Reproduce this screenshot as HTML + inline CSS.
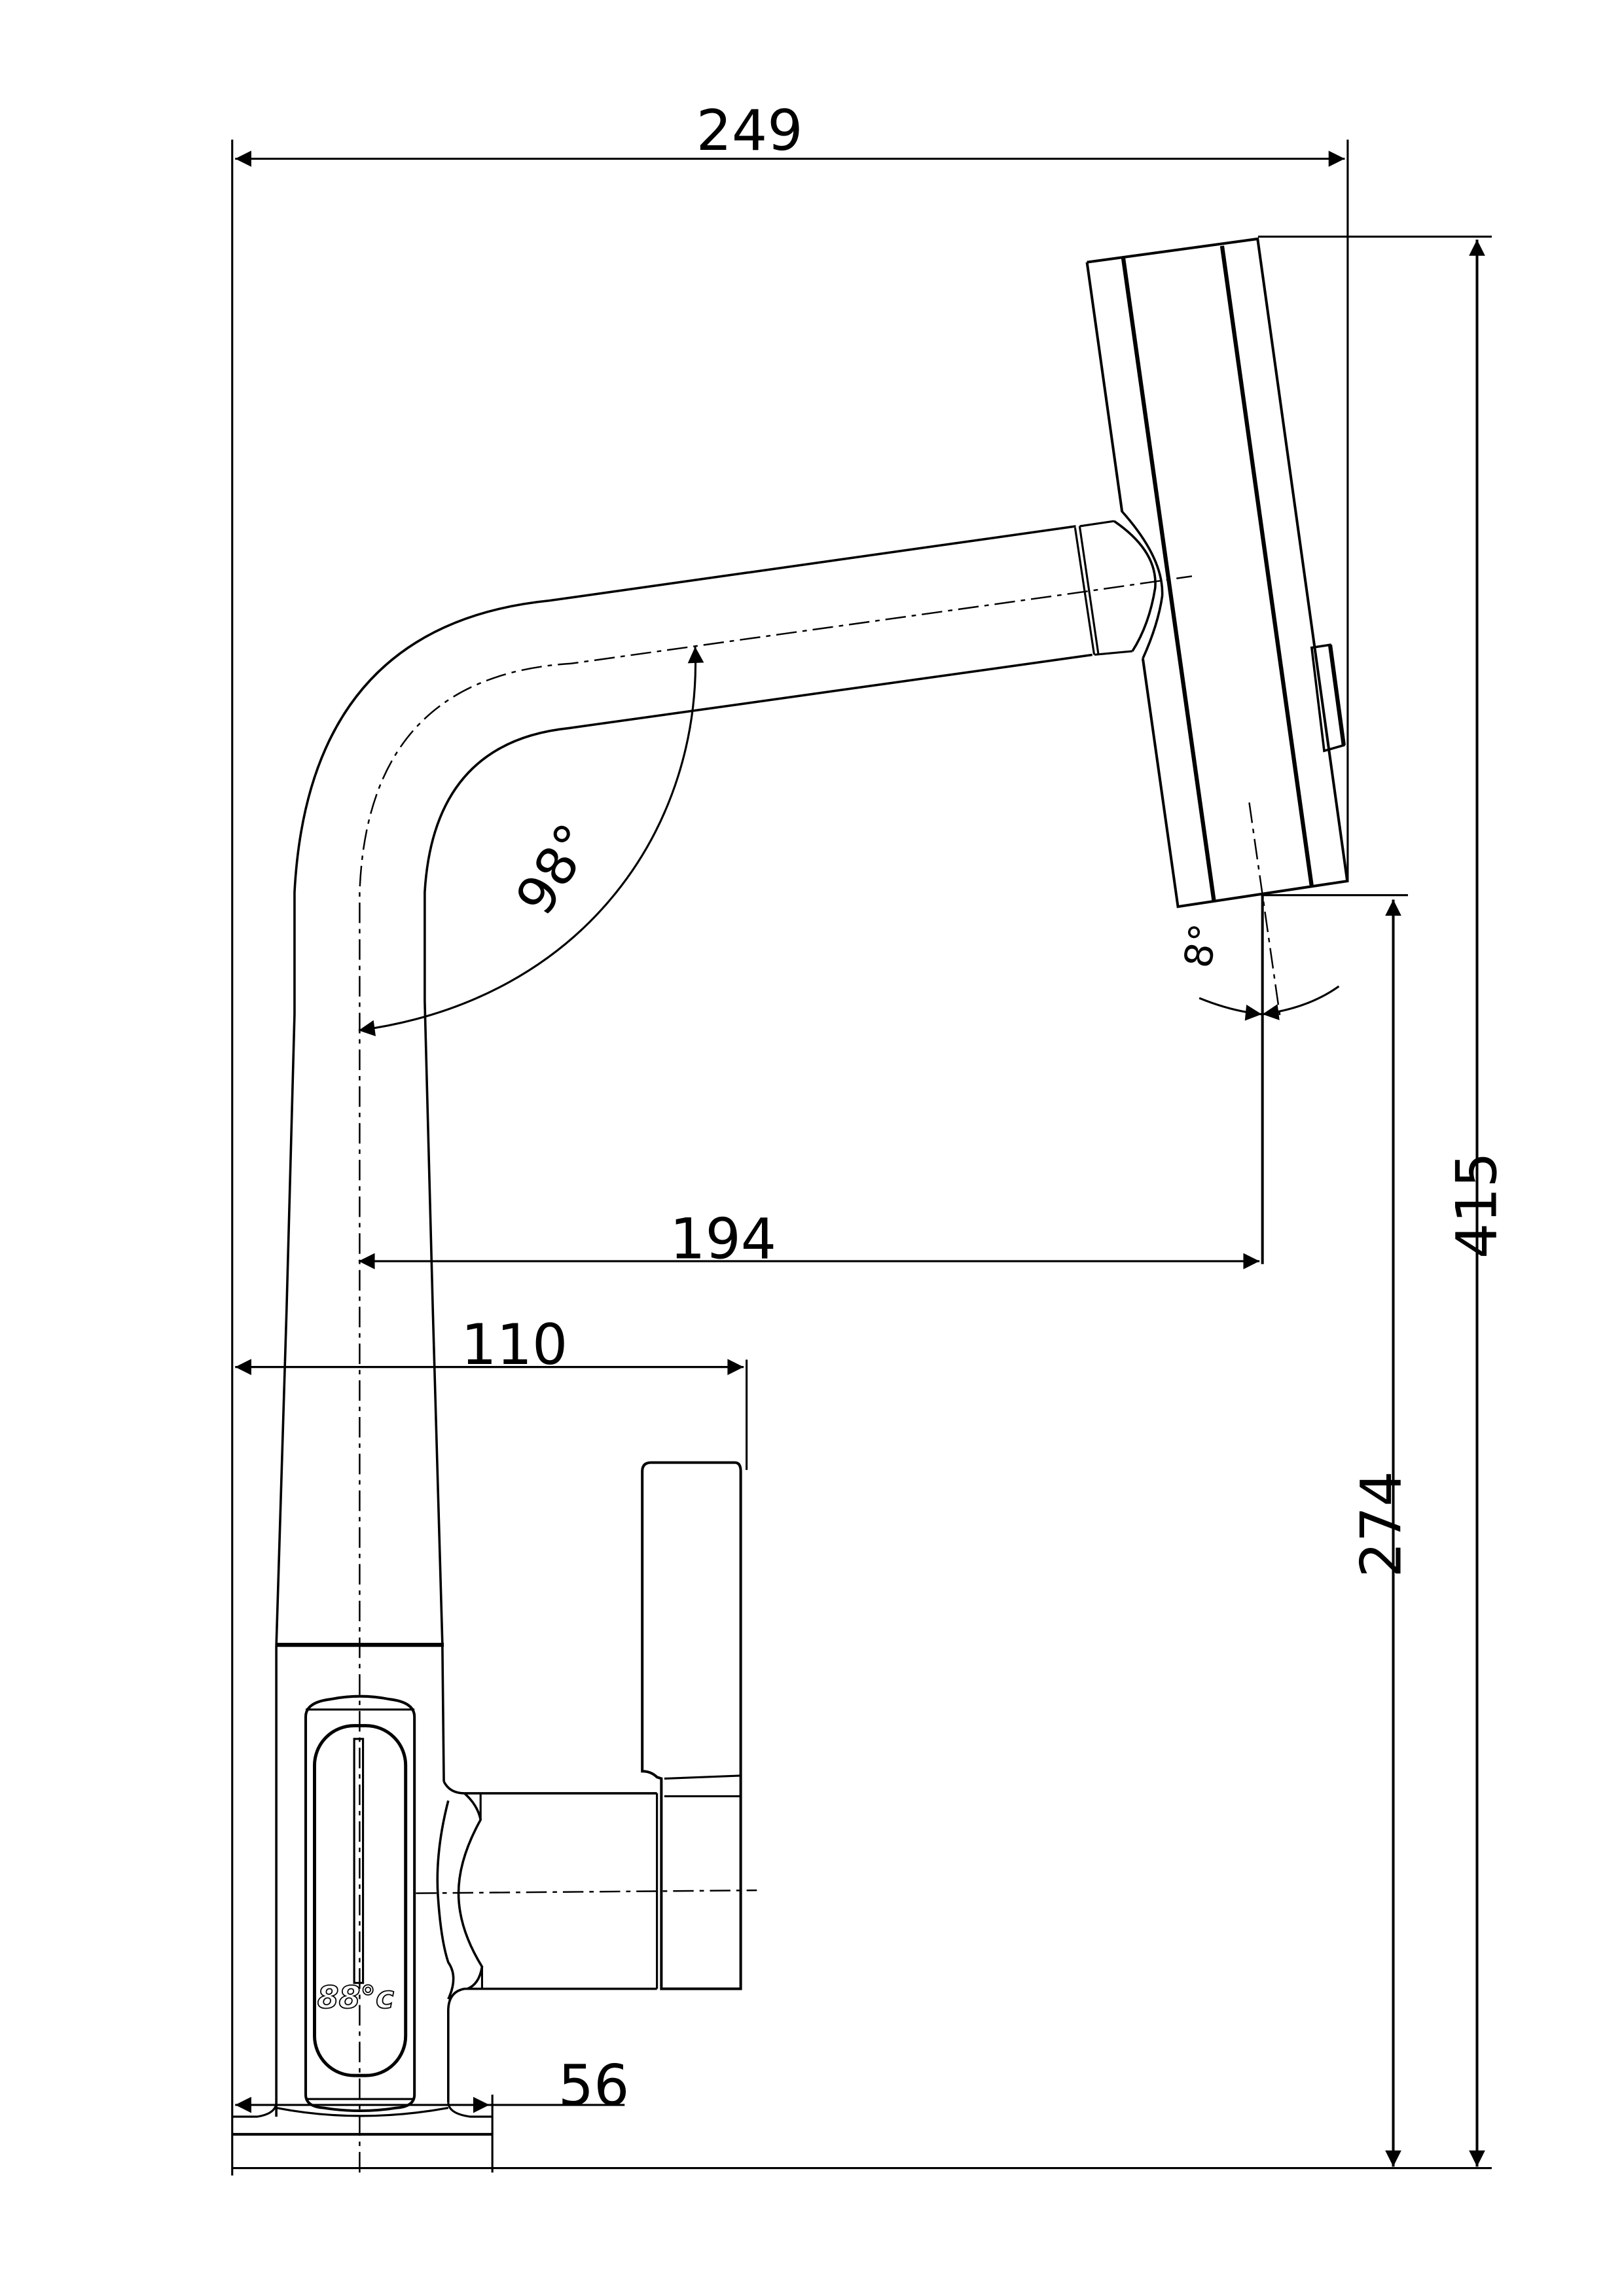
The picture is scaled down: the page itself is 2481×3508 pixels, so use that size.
<!DOCTYPE html>
<html><head><meta charset="utf-8"><style>
html,body{margin:0;padding:0;background:#fff}
svg{display:block}
text{font-family:"DejaVu Sans","Liberation Sans",sans-serif;fill:#000}
</style></head><body>
<svg width="2481" height="3508" viewBox="0 0 1105 1562" preserveAspectRatio="none" xmlns="http://www.w3.org/2000/svg">
<defs>
<marker id="a" viewBox="0 0 10 10" refX="10" refY="5" markerWidth="28" markerHeight="11" markerUnits="userSpaceOnUse" orient="auto-start-reverse"><path d="M0,0 L10,5 L0,10 z" fill="#000"/></marker>
</defs>
<g fill="none" stroke="#000" stroke-width="1.4">
<!-- dimension / extension lines -->
<line x1="158" y1="95" x2="158" y2="1480"/>
<line x1="917" y1="95" x2="917" y2="600"/>
<line x1="160" y1="108" x2="915" y2="108" marker-start="url(#a)" marker-end="url(#a)"/>
<line x1="856" y1="161" x2="1015" y2="161"/>
<line x1="1005" y1="163" x2="1005" y2="1474" marker-start="url(#a)" marker-end="url(#a)" stroke-width="1.8"/>
<line x1="858" y1="609" x2="958" y2="609"/>
<line x1="948" y1="612" x2="948" y2="1474" marker-start="url(#a)" marker-end="url(#a)" stroke-width="1.8"/>
<line x1="158" y1="1475" x2="1015" y2="1475"/>
<line x1="859" y1="609" x2="859" y2="860" stroke-width="1.8"/>
<line x1="244" y1="858" x2="857" y2="858" marker-start="url(#a)" marker-end="url(#a)"/>
<line x1="160" y1="930" x2="506" y2="930" marker-start="url(#a)" marker-end="url(#a)"/>
<line x1="508" y1="925" x2="508" y2="1000"/>
<line x1="160" y1="1432" x2="333" y2="1432" marker-start="url(#a)" marker-end="url(#a)"/>
<line x1="333" y1="1432" x2="425" y2="1432"/>
<line x1="335" y1="1425" x2="335" y2="1478"/>
<!-- centerlines -->
<g stroke-dasharray="14,4,3,4" stroke-width="1.1">
<path d="M244.7 1478 L244.7 607 Q250 460 388.7 451.4 L739.5 402.3 L811 392"/>
<line x1="283" y1="1288" x2="515" y2="1286"/>
<line x1="850" y1="546" x2="871" y2="692"/>
</g>
<!-- spout / body -->
<path d="M188 1440 L188 1120 L195 891 L200.4 690 L200.4 607 Q210 425 373.9 408.6 L732 358" stroke-width="1.6"/>
<path d="M302 1212 L301 1118 L294.5 891 L289 681 L289 607 Q295 505 386.9 495.4 L743.2 445.5" stroke-width="1.6"/>
<line x1="188" y1="1119" x2="302" y2="1119" stroke-width="2.8"/>
<!-- collar -->
<path d="M731.5 359 L744.5 445.4 M734.6 358 L747.4 445.4 M734.6 358 L758 354.5 M744.7 445.4 L770.5 443"/>
<path d="M763.5 348 Q792 380 790.8 405.5 Q788 425 777.6 448" stroke-width="1.6"/>
<path d="M758 354.5 Q788 375 786 400 Q782 425 770.5 443" stroke-width="1.6"/>
<!-- head -->
<path d="M739.6 178.4 L855.7 162.5 L916.7 599.4 L801.5 616.8 L777.6 448 M739.6 178.4 L763.5 348.3" stroke-width="1.8"/>
<line x1="764.3" y1="175.8" x2="826" y2="613" stroke-width="2.8"/>
<line x1="831.5" y1="167.3" x2="892.5" y2="603" stroke-width="2.8"/>
<path d="M892.5 440.6 L905 438.7 L914.3 507 L901 510.8 Z" stroke-width="1.6"/>
<line x1="905" y1="438.7" x2="914.3" y2="507" stroke-width="2.8"/>
<!-- angle arcs -->
<path d="M473 440 C478 560 400 680 244 701" marker-start="url(#a)" marker-end="url(#a)"/>
<path d="M816 679 Q838 688 858.5 690" marker-end="url(#a)"/>
<path d="M911 671 Q890 686 859 690" marker-end="url(#a)"/>
<!-- display panel -->
<path d="M208 1168 Q208 1158 225 1156 Q245 1152 265 1156 Q282 1158 282 1168 L282 1425 Q282 1433 270 1434 Q245 1438 220 1434 Q208 1433 208 1425 Z" stroke-width="1.8"/>
<line x1="208" y1="1163" x2="282" y2="1163"/><line x1="208" y1="1428" x2="282" y2="1428"/>
<rect x="214" y="1174" width="62" height="238" rx="27" stroke-width="2.2"/>
<rect x="241" y="1183" width="6" height="166"/>
<!-- handle -->
<path d="M437 1001 Q437 995 443 995 L500 995 Q504 995 504 1001 L504 1353 L450 1353 L450 1210 L447 1209 Q443 1205 437 1205 Z" stroke-width="1.8"/>
<line x1="452" y1="1210" x2="504" y2="1208"/><line x1="452" y1="1222" x2="504" y2="1222"/>
<line x1="447" y1="1220" x2="447" y2="1353"/>
<path d="M302 1212 Q306 1220 316 1220 L447 1220 M447 1353 L316 1353 Q305 1355 305 1368 L305 1430" stroke-width="1.6"/>
<path d="M305 1225 Q296 1260 298 1290 Q300 1320 305 1335 Q312 1345 305 1360" stroke-width="1.6"/>
<path d="M316 1220 Q325 1228 327 1238 Q312 1265 312 1288 Q312 1312 328 1338 Q326 1350 318 1353" stroke-width="1.6"/>
<line x1="327" y1="1220" x2="327" y2="1238"/><line x1="328" y1="1338" x2="328" y2="1353"/>
<!-- base -->
<path d="M158 1440 L175 1440 Q188 1438 188 1430 M188 1434 Q245 1445 305 1434 M305 1430 Q305 1438 320 1440 L335 1440"/>
<path d="M158 1452 L335 1452" stroke-width="1.8"/>
</g>
<!-- labels -->
<text x="510" y="102" font-size="38" text-anchor="middle">249</text>
<text x="492" y="856" font-size="38" text-anchor="middle">194</text>
<text x="350" y="928" font-size="38" text-anchor="middle">110</text>
<text x="404" y="1432" font-size="38" text-anchor="middle">56</text>
<text transform="translate(1018,820) rotate(-90)" font-size="38" text-anchor="middle">415</text>
<text transform="translate(953,1037) rotate(-90)" font-size="38" text-anchor="middle">274</text>
<text transform="translate(388,598) rotate(-58)" font-size="36" text-anchor="middle">98°</text>
<text transform="translate(826,645) rotate(-80)" font-size="26" text-anchor="middle">8°</text>
<text x="242" y="1366" font-size="21" text-anchor="middle" font-style="italic" font-weight="bold" fill="none" stroke="#000" stroke-width="0.8" style="fill:none">88°c</text>
</svg>
</body></html>
